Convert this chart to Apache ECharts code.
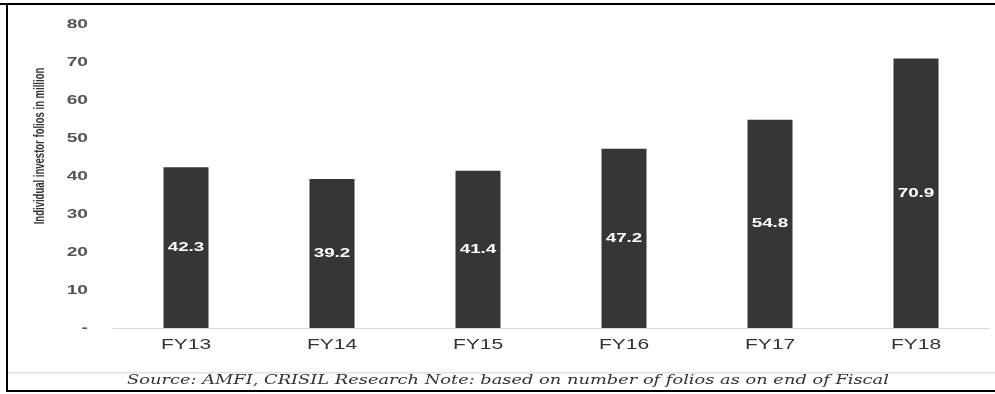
<!DOCTYPE html>
<html>
<head>
<meta charset="utf-8">
<script src="https://cdn.jsdelivr.net/npm/echarts@6/dist/echarts.min.js"></script>
<style>
html,body{margin:0;padding:0;background:#fff;}
#c{width:995px;height:394px;}
</style>
</head>
<body>
<div id="c"></div>
<script>
var categories = ['FY13', 'FY14', 'FY15', 'FY16', 'FY17', 'FY18'];
var folios = [42.3, 39.2, 41.4, 47.2, 54.8, 70.9];
var yTickValues = [0, 10, 20, 30, 40, 50, 60, 70, 80];
var yTickLabels = ['-', '10', '20', '30', '40', '50', '60', '70', '80'];
var yTitle = 'Individual investor folios in million';
var sourceNote = 'Source: AMFI, CRISIL Research Note: based on number of folios as on end of Fiscal';

var chart = echarts.init(document.getElementById('c'), null, { renderer: 'canvas' });
var baseGraphics = [
  { type: 'rect', shape: { x: 0, y: 3, width: 995, height: 2 }, style: { fill: '#000' }, silent: true },
  { type: 'rect', shape: { x: 6, y: 3, width: 2, height: 389 }, style: { fill: '#000' }, silent: true },
  { type: 'rect', shape: { x: 6, y: 390, width: 989, height: 2 }, style: { fill: '#000' }, silent: true },
  { type: 'rect', shape: { x: 8, y: 372, width: 987, height: 1.5 }, style: { fill: '#e2e2e2' }, silent: true },
  {
    type: 'text', x: 40, y: 146, rotation: Math.PI / 2, scaleX: 0.68,
    style: {
      text: yTitle, fill: '#333', fontSize: 14, fontWeight: 'bold',
      fontFamily: 'Liberation Sans, Arial',
      align: 'center', verticalAlign: 'middle'
    }
  },
  {
    type: 'text', x: 508, y: 381, scaleX: 1.37,
    style: {
      text: sourceNote, fill: '#333', fontSize: 13, fontStyle: 'italic',
      fontFamily: 'DejaVu Serif, Liberation Serif, serif',
      align: 'center', verticalAlign: 'middle'
    }
  }
];

chart.setOption({
  animation: false,
  backgroundColor: '#ffffff',
  grid: { left: 113, right: 6, top: 24, bottom: 66 },
  xAxis: {
    type: 'category',
    data: categories,
    axisLine: { show: true, lineStyle: { color: '#d9d9d9', width: 1 } },
    axisTick: { show: false },
    axisLabel: { show: false }
  },
  yAxis: {
    type: 'value',
    min: 0, max: 80, interval: 10,
    splitLine: { show: false },
    axisLine: { show: false },
    axisTick: { show: false },
    axisLabel: { show: false }
  },
  series: [{
    type: 'bar',
    data: folios,
    barWidth: 45,
    itemStyle: { color: '#363636' },
    label: { show: false }
  }],
  graphic: baseGraphics
});

// Stretched text labels placed through the chart's own scales
var extra = [];
yTickValues.forEach(function (v, i) {
  var p = chart.convertToPixel({ gridIndex: 0 }, [0, v]);
  extra.push({
    type: 'text', x: 88, y: p[1] + 1, scaleX: 1.6, z: 10,
    style: {
      text: yTickLabels[i], fill: '#555', fontSize: 12, fontWeight: 'bold',
      fontFamily: 'Liberation Sans, Arial', align: 'right', verticalAlign: 'middle'
    }
  });
});
categories.forEach(function (c, i) {
  var p = chart.convertToPixel({ gridIndex: 0 }, [c, 0]);
  extra.push({
    type: 'text', x: p[0], y: p[1] + 17, scaleX: 1.5, z: 10,
    style: {
      text: c, fill: '#333', fontSize: 14,
      fontFamily: 'Liberation Sans, Arial', align: 'center', verticalAlign: 'middle'
    }
  });
  var q = chart.convertToPixel({ gridIndex: 0 }, [c, folios[i] / 2]);
  extra.push({
    type: 'text', x: q[0], y: q[1], scaleX: 1.45, z: 10,
    style: {
      text: folios[i].toFixed(1), fill: '#fff', fontSize: 13, fontWeight: 'bold',
      fontFamily: 'Liberation Sans, Arial', align: 'center', verticalAlign: 'middle'
    }
  });
});
chart.setOption({ graphic: baseGraphics.concat(extra) });
</script>
</body>
</html>
